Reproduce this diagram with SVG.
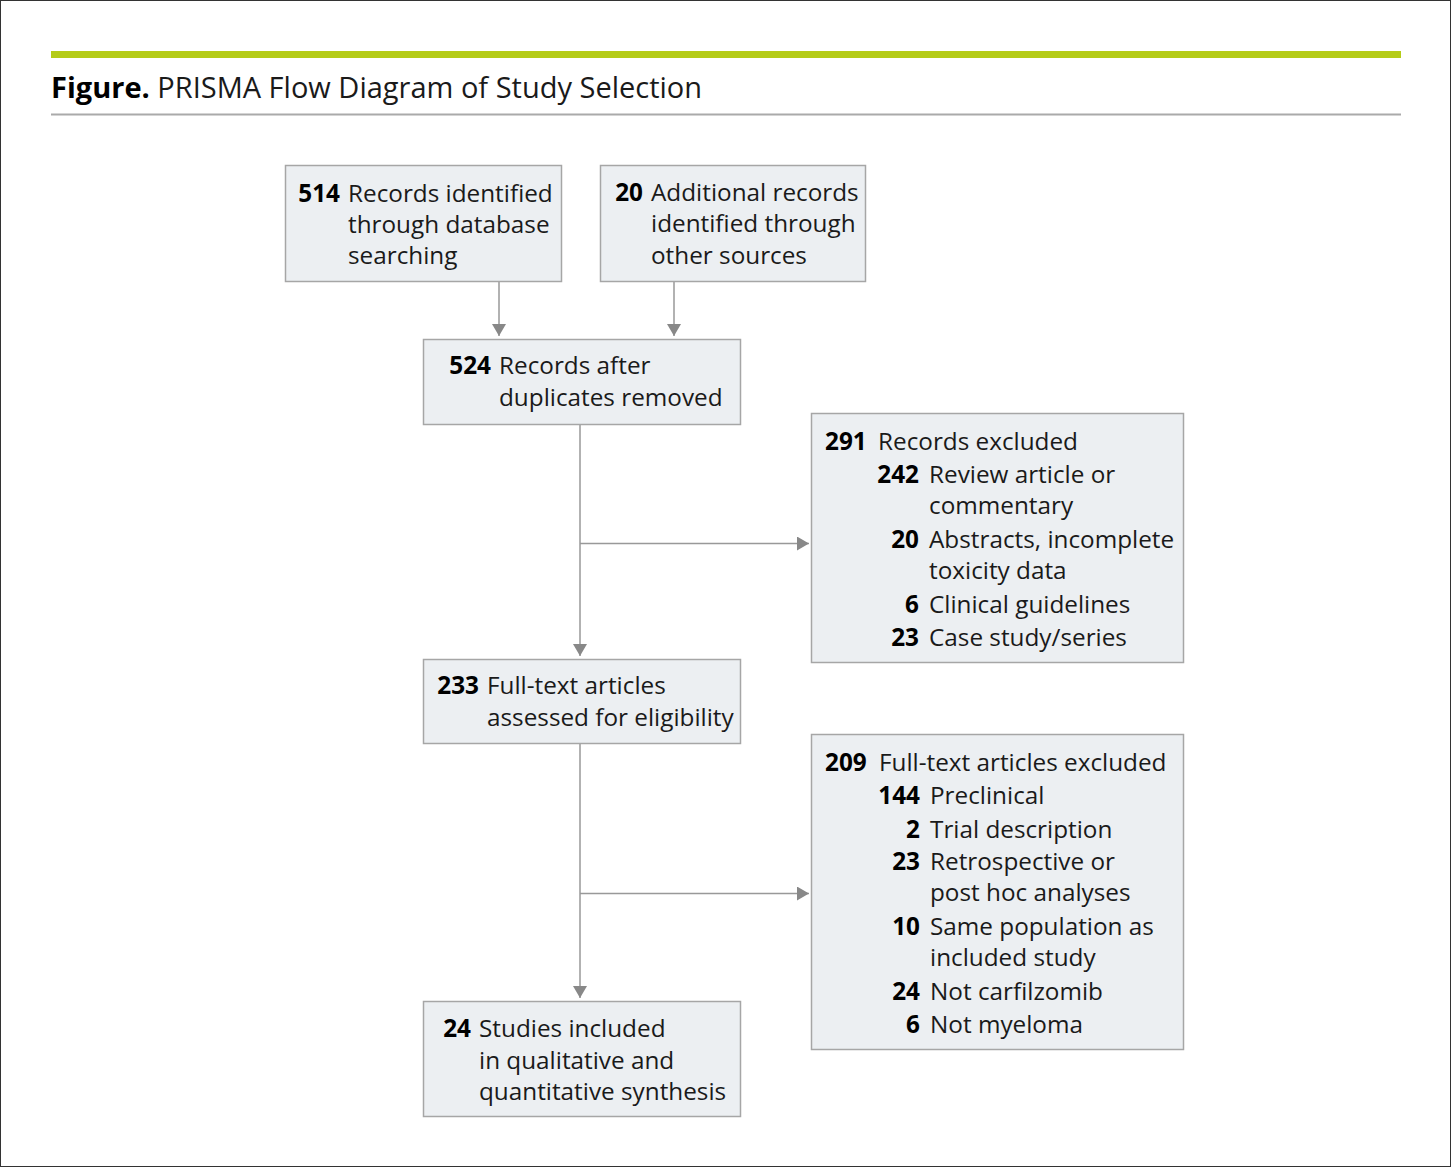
<svg xmlns="http://www.w3.org/2000/svg" width="1451" height="1167" viewBox="0 0 1451 1167">
<defs>
<style>
text{font-family:"Open Sans","Noto Sans",sans-serif;font-size:24.3px;fill:#1a1a1a}
.b{font-weight:bold;fill:#000}
.n{font-weight:bold;fill:#000;text-anchor:end}
.box{fill:#eceff2;stroke:#a6a6a6;stroke-width:1.5}
.c{stroke:#999;stroke-width:1.5;fill:none}
</style>
<marker id="ah" viewBox="0 0 12 14" refX="12" refY="7" markerWidth="12" markerHeight="14" markerUnits="userSpaceOnUse" orient="auto"><path d="M0,0 L12,7 L0,14 z" fill="#888"/></marker>
</defs>
<rect x="0.5" y="0.5" width="1450" height="1166" fill="#fff" stroke="#333" stroke-width="1"/>
<rect x="51" y="51" width="1350" height="7" fill="#b5cc18"/>
<line x1="51" y1="114.5" x2="1401" y2="114.5" stroke="#aaa" stroke-width="2"/>
<text x="51" y="98" style="font-size:29px"><tspan class="b">Figure.</tspan> PRISMA Flow Diagram of Study Selection</text>

<g id="connectors">
<line class="c" x1="499" y1="281" x2="499" y2="336" marker-end="url(#ah)"/>
<line class="c" x1="674" y1="281" x2="674" y2="336" marker-end="url(#ah)"/>
<line class="c" x1="580" y1="424" x2="580" y2="656" marker-end="url(#ah)"/>
<line class="c" x1="580" y1="543.5" x2="809" y2="543.5" marker-end="url(#ah)"/>
<line class="c" x1="580" y1="743" x2="580" y2="998" marker-end="url(#ah)"/>
<line class="c" x1="580" y1="893.5" x2="809" y2="893.5" marker-end="url(#ah)"/>
</g>

<g id="n1">
<rect class="box" x="285.5" y="165.5" width="276" height="116"/>
<text class="n" x="340" y="202">514</text>
<text x="348" y="202">Records identified</text>
<text x="348" y="233">through database</text>
<text x="348" y="264">searching</text>
</g>
<g id="n2">
<rect class="box" x="600.5" y="165.5" width="265" height="116"/>
<text class="n" x="643" y="201">20</text>
<text x="651" y="201">Additional records</text>
<text x="651" y="232">identified through</text>
<text x="651" y="264">other sources</text>
</g>
<g id="n3">
<rect class="box" x="423.5" y="339.5" width="317" height="85"/>
<text class="n" x="491" y="374">524</text>
<text x="499" y="374">Records after</text>
<text x="499" y="406">duplicates removed</text>
</g>
<g id="n4">
<rect class="box" x="811.5" y="413.5" width="372" height="249"/>
<text class="b" x="825" y="450">291</text>
<text x="878" y="450">Records excluded</text>
<text class="n" x="919" y="483">242</text>
<text x="929" y="483">Review article or</text>
<text x="929" y="514">commentary</text>
<text class="n" x="919" y="548">20</text>
<text x="929" y="548">Abstracts, incomplete</text>
<text x="929" y="579">toxicity data</text>
<text class="n" x="919" y="613">6</text>
<text x="929" y="613">Clinical guidelines</text>
<text class="n" x="919" y="646">23</text>
<text x="929" y="646">Case study/series</text>
</g>
<g id="n5">
<rect class="box" x="423.5" y="659.5" width="317" height="84"/>
<text class="n" x="479" y="694">233</text>
<text x="487" y="694">Full-text articles</text>
<text x="487" y="726">assessed for eligibility</text>
</g>
<g id="n6">
<rect class="box" x="811.5" y="734.5" width="372" height="315"/>
<text class="b" x="825" y="771">209</text>
<text x="879" y="771">Full-text articles excluded</text>
<text class="n" x="920" y="804">144</text>
<text x="930" y="804">Preclinical</text>
<text class="n" x="920" y="838">2</text>
<text x="930" y="838">Trial description</text>
<text class="n" x="920" y="870">23</text>
<text x="930" y="870">Retrospective or</text>
<text x="930" y="901">post hoc analyses</text>
<text class="n" x="920" y="935">10</text>
<text x="930" y="935">Same population as</text>
<text x="930" y="966">included study</text>
<text class="n" x="920" y="1000">24</text>
<text x="930" y="1000">Not carfilzomib</text>
<text class="n" x="920" y="1033">6</text>
<text x="930" y="1033">Not myeloma</text>
</g>
<g id="n7">
<rect class="box" x="423.5" y="1001.5" width="317" height="115"/>
<text class="n" x="471" y="1037">24</text>
<text x="479" y="1037">Studies included</text>
<text x="479" y="1069">in qualitative and</text>
<text x="479" y="1100">quantitative synthesis</text>
</g>
</svg>
